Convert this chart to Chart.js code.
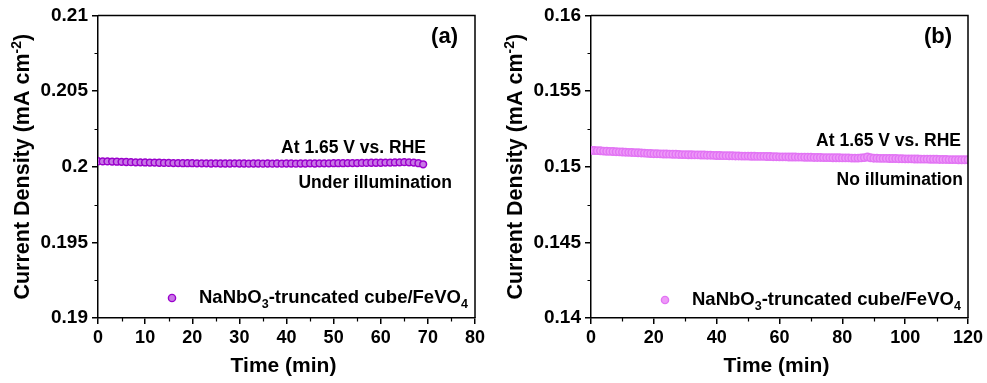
<!DOCTYPE html>
<html>
<head>
<meta charset="utf-8">
<script src="https://cdn.jsdelivr.net/npm/chart.js@4/dist/chart.umd.min.js"></script>
<style>
  html, body { margin: 0; padding: 0; background: #fff; }
  #wrap { position: relative; width: 987px; height: 383px; overflow: hidden; }
  canvas { position: absolute; top: 0; }
  #panelA { left: 0; }
  #panelB { left: 493px; }
</style>
</head>
<body>
<div id="wrap">
  <canvas id="panelA" width="494" height="383"></canvas>
  <canvas id="panelB" width="494" height="383"></canvas>
</div>
<script>
// Panel (a): chronoamperometry under illumination
const timeA = [
  0, 1, 2, 3, 4, 5, 6, 7, 8, 9,
  10, 11, 12, 13, 14, 15, 16, 17, 18, 19,
  20, 21, 22, 23, 24, 25, 26, 27, 28, 29,
  30, 31, 32, 33, 34, 35, 36, 37, 38, 39,
  40, 41, 42, 43, 44, 45, 46, 47, 48, 49,
  50, 51, 52, 53, 54, 55, 56, 57, 58, 59,
  60, 61, 62, 63, 64, 65, 66, 67, 68, 69
];
const densityA = [
  0.20036, 0.20035, 0.20035, 0.20034, 0.20033, 0.20032, 0.20031, 0.20030, 0.20029, 0.20029,
  0.20028, 0.20027, 0.20027, 0.20026, 0.20025, 0.20025, 0.20024, 0.20024, 0.20023, 0.20023,
  0.20023, 0.20022, 0.20022, 0.20022, 0.20021, 0.20022, 0.20021, 0.20021, 0.20021, 0.20022,
  0.20021, 0.20021, 0.20020, 0.20021, 0.20021, 0.20020, 0.20021, 0.20020, 0.20021, 0.20020,
  0.20021, 0.20021, 0.20020, 0.20021, 0.20021, 0.20022, 0.20021, 0.20022, 0.20022, 0.20022,
  0.20023, 0.20023, 0.20023, 0.20024, 0.20024, 0.20024, 0.20025, 0.20025, 0.20026, 0.20026,
  0.20026, 0.20027, 0.20027, 0.20028, 0.20029, 0.20030, 0.20029, 0.20027, 0.20023, 0.20016
];
const xTicksA = [0, 10, 20, 30, 40, 50, 60, 70, 80];
const yTicksA = [0.19, 0.195, 0.2, 0.205, 0.21];

// Panel (b): chronoamperometry in the dark
const timeB = [
  0, 1, 2, 3, 4, 5, 6, 7, 8, 9,
  10, 11, 12, 13, 14, 15, 16, 17, 18, 19,
  20, 21, 22, 23, 24, 25, 26, 27, 28, 29,
  30, 31, 32, 33, 34, 35, 36, 37, 38, 39,
  40, 41, 42, 43, 44, 45, 46, 47, 48, 49,
  50, 51, 52, 53, 54, 55, 56, 57, 58, 59,
  60, 61, 62, 63, 64, 65, 66, 67, 68, 69,
  70, 71, 72, 73, 74, 75, 76, 77, 78, 79,
  80, 81, 82, 83, 84, 85, 86, 87, 88, 89,
  90, 91, 92, 93, 94, 95, 96, 97, 98, 99,
  100, 101, 102, 103, 104, 105, 106, 107, 108, 109,
  110, 111, 112, 113, 114, 115, 116, 117, 118, 119, 120
];
const densityB = [
  0.15108, 0.15107, 0.15106, 0.15105, 0.15103, 0.15102, 0.15101, 0.15100, 0.15099, 0.15098,
  0.15097, 0.15096, 0.15095, 0.15094, 0.15093, 0.15092, 0.15091, 0.15090, 0.15088, 0.15087,
  0.15086, 0.15086, 0.15085, 0.15084, 0.15084, 0.15083, 0.15082, 0.15082, 0.15081, 0.15080,
  0.15080, 0.15079, 0.15079, 0.15078, 0.15078, 0.15077, 0.15077, 0.15076, 0.15076, 0.15075,
  0.15074, 0.15074, 0.15073, 0.15073, 0.15072, 0.15072, 0.15071, 0.15071, 0.15070, 0.15070,
  0.15070, 0.15069, 0.15069, 0.15068, 0.15068, 0.15068, 0.15067, 0.15067, 0.15066, 0.15066,
  0.15065, 0.15065, 0.15065, 0.15064, 0.15064, 0.15064, 0.15063, 0.15063, 0.15062, 0.15062,
  0.15062, 0.15061, 0.15061, 0.15061, 0.15060, 0.15060, 0.15060, 0.15059, 0.15059, 0.15059,
  0.15058, 0.15058, 0.15058, 0.15057, 0.15057, 0.15057, 0.15058, 0.15060, 0.15064, 0.15059,
  0.15056, 0.15056, 0.15055, 0.15055, 0.15055, 0.15054, 0.15054, 0.15054, 0.15053, 0.15053,
  0.15052, 0.15052, 0.15052, 0.15051, 0.15051, 0.15050, 0.15050, 0.15050, 0.15049, 0.15049,
  0.15049, 0.15048, 0.15048, 0.15048, 0.15047, 0.15047, 0.15047, 0.15046, 0.15046, 0.15046, 0.15046
];
const xTicksB = [0, 20, 40, 60, 80, 100, 120];
const yTicksB = [0.14, 0.145, 0.15, 0.155, 0.16];

const FONT = '"Liberation Sans", Arial, Helvetica, sans-serif';
const INK = '#000';

function fmt(v) { return String(Number(v.toFixed(4))); }

// Frame, minor ticks, axis titles, notes and legend drawn on top of the chart.
const decorations = {
  id: 'decorations',
  afterDraw(chart, args, o) {
    const ctx = chart.ctx;
    const a = chart.chartArea;
    const xs = chart.scales.x, ys = chart.scales.y;
    ctx.save();

    // top and right edges of the frame
    ctx.strokeStyle = INK;
    ctx.lineWidth = 1.5;
    ctx.beginPath();
    ctx.moveTo(a.left, a.top);
    ctx.lineTo(a.right, a.top);
    ctx.lineTo(a.right, a.bottom);
    ctx.stroke();

    // minor ticks
    ctx.lineWidth = 1.2;
    ctx.beginPath();
    for (let v = o.xMinor; v < xs.max; v += o.xMinorStep) {
      const px = Math.round(xs.getPixelForValue(v)) + 0.5;
      ctx.moveTo(px, a.bottom);
      ctx.lineTo(px, a.bottom + 3.5);
    }
    for (let i = 0; i < o.yTicks.length - 1; i++) {
      const mid = (o.yTicks[i] + o.yTicks[i + 1]) / 2;
      const py = Math.round(ys.getPixelForValue(mid)) + 0.5;
      ctx.moveTo(a.left, py);
      ctx.lineTo(a.left - 3.5, py);
    }
    ctx.stroke();

    ctx.fillStyle = INK;

    // x axis title
    ctx.font = 'bold 21px ' + FONT;
    ctx.textAlign = 'center';
    ctx.textBaseline = 'alphabetic';
    ctx.fillText('Time (min)', (a.left + a.right) / 2 - 3, 372);

    // y axis title with superscript
    ctx.save();
    ctx.translate(29, (a.top + a.bottom) / 2);
    ctx.rotate(-Math.PI / 2);
    const mainFont = 'bold 21.5px ' + FONT, supFont = 'bold 14px ' + FONT;
    const p1 = 'Current Density (mA cm', p2 = '-2', p3 = ')';
    ctx.font = mainFont; const w1 = ctx.measureText(p1).width, w3 = ctx.measureText(p3).width;
    ctx.font = supFont; const w2 = ctx.measureText(p2).width;
    let x0 = -(w1 + w2 + w3) / 2;
    ctx.textAlign = 'left';
    ctx.font = mainFont; ctx.fillText(p1, x0, 0);
    ctx.font = supFont; ctx.fillText(p2, x0 + w1, -8.5);
    ctx.font = mainFont; ctx.fillText(p3, x0 + w1 + w2, 0);
    ctx.restore();

    // panel letter
    ctx.font = 'bold 22px ' + FONT;
    ctx.textAlign = 'right';
    ctx.fillText(o.letter, a.right - o.letterInset, a.top + 28);

    // notes
    ctx.font = 'bold 17.5px ' + FONT;
    o.notes.forEach(n => ctx.fillText(n.text, a.right - n.inset, n.y));

    // legend
    const ds = chart.data.datasets[0];
    ctx.beginPath();
    ctx.arc(a.left + 74, o.legendY - 5, 3.6, 0, Math.PI * 2);
    ctx.fillStyle = ds.pointBackgroundColor;
    ctx.fill();
    ctx.lineWidth = 1.4;
    ctx.strokeStyle = ds.pointBorderColor;
    ctx.stroke();

    ctx.fillStyle = INK;
    ctx.textAlign = 'left';
    const big = 'bold 18.5px ' + FONT, small = 'bold 12.5px ' + FONT;
    const parts = [['NaNbO', big, 0], ['3', small, 5], ['-truncated cube/FeVO', big, 0], ['4', small, 5]];
    let lx = a.left + 101;
    parts.forEach(([t, f, dy]) => {
      ctx.font = f;
      ctx.fillText(t, lx, o.legendY + dy);
      lx += ctx.measureText(t).width;
    });

    ctx.restore();
  }
};

function makePanel(canvasId, times, values, xTicks, yTicks, colours, extra) {
  const points = times.map((t, i) => ({ x: t, y: values[i] }));
  return new Chart(document.getElementById(canvasId), {
    type: 'scatter',
    data: {
      datasets: [{
        label: 'NaNbO3-truncated cube/FeVO4',
        data: points,
        showLine: false,
        pointRadius: colours.radius,
        pointBorderWidth: 1.5,
        pointBackgroundColor: colours.fill,
        pointBorderColor: colours.edge
      }]
    },
    options: {
      responsive: false,
      animation: false,
      devicePixelRatio: 1,
      layout: { padding: { top: 15, right: 19, left: 0, bottom: 0 } },
      plugins: {
        legend: { display: false },
        tooltip: { enabled: false },
        decorations: Object.assign({ yTicks: yTicks }, extra)
      },
      scales: {
        x: {
          type: 'linear',
          min: xTicks[0],
          max: xTicks[xTicks.length - 1],
          afterBuildTicks: s => { s.ticks = xTicks.map(v => ({ value: v })); },
          afterFit: s => { s.height = 65; },
          grid: { display: true, drawOnChartArea: false, drawTicks: true, tickLength: 6, color: INK, lineWidth: 1.5 },
          border: { display: true, color: INK, width: 1.5 },
          ticks: {
            color: INK,
            padding: 3,
            maxRotation: 0,
            font: { family: FONT, size: 18, weight: 'bold' },
            callback: v => fmt(v)
          }
        },
        y: {
          type: 'linear',
          min: yTicks[0],
          max: yTicks[yTicks.length - 1],
          afterBuildTicks: s => { s.ticks = yTicks.map(v => ({ value: v })); },
          afterFit: s => { s.width = 98; },
          grid: { display: true, drawOnChartArea: false, drawTicks: true, tickLength: 6, color: INK, lineWidth: 1.5 },
          border: { display: true, color: INK, width: 1.5 },
          ticks: {
            color: INK,
            padding: 4,
            font: { family: FONT, size: 19, weight: 'bold' },
            callback: v => fmt(v)
          }
        }
      }
    },
    plugins: [decorations]
  });
}

makePanel('panelA', timeA, densityA, xTicksA, yTicksA,
  { fill: '#c877e6', edge: '#9a00cc', radius: 3.4 },
  {
    letter: '(a)', letterInset: 17,
    xMinor: 5, xMinorStep: 10,
    notes: [
      { text: 'At 1.65 V vs. RHE', inset: 49, y: 153 },
      { text: 'Under illumination', inset: 23, y: 188 }
    ],
    legendY: 303
  });

makePanel('panelB', timeB, densityB, xTicksB, yTicksB,
  { fill: '#ee9af8', edge: '#e274f4', radius: 3.7 },
  {
    letter: '(b)', letterInset: 16,
    xMinor: 10, xMinorStep: 20,
    notes: [
      { text: 'At 1.65 V vs. RHE', inset: 7, y: 146 },
      { text: 'No illumination', inset: 5, y: 185 }
    ],
    legendY: 305
  });
</script>
</body>
</html>
